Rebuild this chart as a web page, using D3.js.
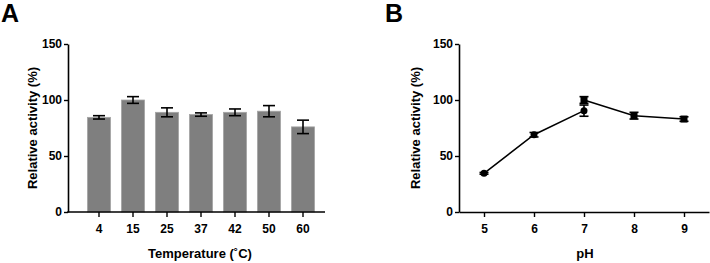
<!DOCTYPE html>
<html>
<head>
<meta charset="utf-8">
<script src="https://cdn.jsdelivr.net/npm/d3@7"></script>
<style>
  body { margin: 0; background: #fff; }
  svg { display: block; }
  text { font-family: "Liberation Sans", Arial, sans-serif; font-weight: bold; fill: #000; }
</style>
</head>
<body>
<svg id="chart" width="710" height="263"></svg>
<script>
// Panel A data
const tempLabels = ["4", "15", "25", "37", "42", "50", "60"];
const tempMeans = [84.5, 100, 89, 87, 89, 90, 76];
const tempErrs = [1.5, 3, 4, 1.5, 3, 5, 6];

// Panel B data (two series)
const phCircleX = [5, 6, 7];
const phCircleY = [34.5, 69, 90.5];
const phCircleErr = [0.8, 2, 5];
const phSquareX = [7, 8, 9];
const phSquareY = [100, 86, 83];
const phSquareErr = [3, 3, 2];

const yTicks = [0, 50, 100, 150];
const phTicks = [5, 6, 7, 8, 9];

const svg = d3.select("#chart");
const y0 = 212, yTop = 44;

function yAxis(g, scale, x) {
    const ax = g.append("g")
        .attr("transform", `translate(${x},0)`)
        .call(d3.axisLeft(scale).tickValues(yTicks).tickSize(4).tickSizeOuter(0).tickPadding(2));
    ax.select(".domain").attr("stroke", "#000").attr("stroke-width", 1.6);
    ax.selectAll(".tick line").attr("stroke", "#000").attr("stroke-width", 1.4);
    ax.selectAll(".tick text").style("font-size", "12px").style("font-weight", "bold");
}

// ---------- Panel A ----------
const gA = svg.append("g");
const yA = d3.scaleLinear().domain([0, 150]).range([y0, yTop]);
const xA = d3.scaleBand().domain(tempLabels).range([82, 320]).paddingInner(0.32).paddingOuter(0.16);

gA.selectAll("rect.bar")
    .data(tempLabels)
    .enter()
    .append("rect")
    .attr("class", "bar")
    .attr("x", d => xA(d))
    .attr("width", xA.bandwidth())
    .attr("y", (d, i) => yA(tempMeans[i]))
    .attr("height", (d, i) => y0 - yA(tempMeans[i]))
    .attr("fill", "#7f7f7f")
    .attr("stroke", "#a5a5a5")
    .attr("stroke-width", 0.8);

// error bars A
tempLabels.forEach((d, i) => {
    const cx = xA(d) + xA.bandwidth() / 2;
    const hi = yA(tempMeans[i] + tempErrs[i]);
    const lo = yA(tempMeans[i] - tempErrs[i]);
    const eb = gA.append("g").attr("stroke", "#000").attr("stroke-width", 1.6);
    eb.append("line").attr("x1", cx).attr("x2", cx).attr("y1", hi).attr("y2", lo);
    eb.append("line").attr("x1", cx - 6).attr("x2", cx + 6).attr("y1", hi).attr("y2", hi);
    eb.append("line").attr("x1", cx - 6).attr("x2", cx + 6).attr("y1", lo).attr("y2", lo);
});

yAxis(gA, yA, 68);

const axA = gA.append("g")
    .attr("transform", `translate(0,${y0})`)
    .call(d3.axisBottom(xA).tickSize(5).tickPadding(7));
axA.select(".domain").remove();
axA.selectAll(".tick line").attr("stroke", "#000").attr("stroke-width", 1.4);
axA.selectAll(".tick text").style("font-size", "12px").style("font-weight", "bold");
gA.append("line").attr("x1", 67.2).attr("x2", 325).attr("y1", y0).attr("y2", y0)
    .attr("stroke", "#000").attr("stroke-width", 1.6);

gA.append("text").attr("x", 200).attr("y", 258).attr("text-anchor", "middle")
    .style("font-size", "13px").text("Temperature (˚C)");
gA.append("text").attr("transform", "rotate(-90)").attr("x", -128).attr("y", 37)
    .attr("text-anchor", "middle").style("font-size", "13px").text("Relative activity (%)");
gA.append("text").attr("x", 1).attr("y", 22).style("font-size", "25px").text("A");

// ---------- Panel B ----------
const gB = svg.append("g");
const yB = d3.scaleLinear().domain([0, 150]).range([y0, yTop]);
const xB = d3.scaleLinear().domain([4.5, 9.5]).range([459, 709]);

yAxis(gB, yB, 459);

const axB = gB.append("g")
    .attr("transform", `translate(0,${y0})`)
    .call(d3.axisBottom(xB).tickValues(phTicks).tickFormat(d3.format("d")).tickSize(5).tickSizeOuter(0).tickPadding(7));
axB.select(".domain").attr("stroke", "#000").attr("stroke-width", 1.6);
axB.selectAll(".tick line").attr("stroke", "#000").attr("stroke-width", 1.4);
axB.selectAll(".tick text").style("font-size", "12px").style("font-weight", "bold");

const line = d3.line().x(d => xB(d[0])).y(d => yB(d[1]));
const circPts = phCircleX.map((x, i) => [x, phCircleY[i], phCircleErr[i]]);
const sqPts = phSquareX.map((x, i) => [x, phSquareY[i], phSquareErr[i]]);

gB.append("path").datum(circPts).attr("d", line).attr("fill", "none")
    .attr("stroke", "#000").attr("stroke-width", 1.5);
gB.append("path").datum(sqPts).attr("d", line).attr("fill", "none")
    .attr("stroke", "#000").attr("stroke-width", 1.5);

function errBar(p) {
    const cx = xB(p[0]);
    const hi = yB(p[1] + p[2]);
    const lo = yB(p[1] - p[2]);
    const eb = gB.append("g").attr("stroke", "#000").attr("stroke-width", 1.6);
    eb.append("line").attr("x1", cx).attr("x2", cx).attr("y1", hi).attr("y2", lo);
    eb.append("line").attr("x1", cx - 4.5).attr("x2", cx + 4.5).attr("y1", hi).attr("y2", hi);
    eb.append("line").attr("x1", cx - 4.5).attr("x2", cx + 4.5).attr("y1", lo).attr("y2", lo);
}
circPts.forEach(errBar);
sqPts.forEach(errBar);

gB.selectAll("circle.pt").data(circPts).enter().append("circle")
    .attr("class", "pt")
    .attr("cx", d => xB(d[0])).attr("cy", d => yB(d[1])).attr("r", 3.5).attr("fill", "#000");
gB.selectAll("rect.pt").data(sqPts).enter().append("rect")
    .attr("class", "pt")
    .attr("x", d => xB(d[0]) - 3.5).attr("y", d => yB(d[1]) - 3.5)
    .attr("width", 7).attr("height", 7).attr("fill", "#000");

gB.append("text").attr("x", 585).attr("y", 258).attr("text-anchor", "middle")
    .style("font-size", "13px").text("pH");
gB.append("text").attr("transform", "rotate(-90)").attr("x", -128).attr("y", 420)
    .attr("text-anchor", "middle").style("font-size", "13px").text("Relative activity (%)");
gB.append("text").attr("x", 385).attr("y", 22).style("font-size", "25px").text("B");
</script>
</body>
</html>
